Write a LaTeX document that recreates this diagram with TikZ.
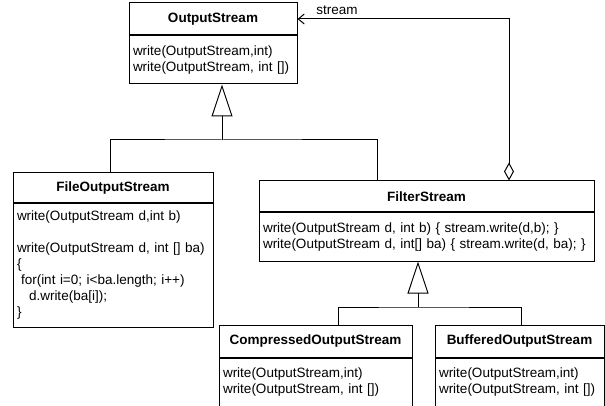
\documentclass[tikz,border=0pt]{standalone}
\usepackage{fontspec}
\setmainfont{Liberation Sans}
\usetikzlibrary{arrows.meta}

\newcommand{\umlfont}{\fontsize{13.5}{16}\selectfont}

\tikzset{
  classhead/.style={draw, font=\umlfont\bfseries, inner sep=0pt},
  classbody/.style={draw, font=\umlfont, anchor=north, align=left, inner xsep=4pt, inner ysep=0pt},
  inherit/.style={-{Triangle[open,length=32pt,width=21pt]}},
  aggregate/.style={{Diamond[open,length=18pt,width=10pt]}-{Straight Barb[length=6pt,width=10pt]}}
}

\begin{document}
\begin{tikzpicture}[x=1pt,y=-1pt,line width=1pt]
  \useasboundingbox (0,0) rectangle (605,406);

  % classes
  \node[classhead, minimum width=168pt, minimum height=32pt] (osh) at (213,19) {OutputStream};
  \node[classbody, text width=160pt, minimum height=48pt] (osb) at (osh.south)
    {write(OutputStream,int)\\write(OutputStream, int [])};

  \node[classhead, minimum width=200pt, minimum height=30pt] (fosh) at (113,188) {FileOutputStream};
  \node[classbody, text width=192pt, minimum height=123pt] (fosb) at (fosh.south)
    {write(OutputStream d,int b)\\[16pt]write(OutputStream d, int [] ba)\\\{\\
     \hspace*{4pt}for(int i=0; i<ba.length; i++)\\\hspace*{12pt}d.write(ba[i]);\\\}};

  \node[classhead, minimum width=335pt, minimum height=31pt] (fsh) at (426.5,196.5) {FilterStream};
  \node[classbody, text width=327pt, minimum height=48pt] (fsb) at (fsh.south)
    {write(OutputStream d, int b) \{ stream.write(d,b); \}\\write(OutputStream d, int[] ba) \{ stream.write(d, ba); \}};

  \node[classhead, minimum width=193pt, minimum height=32pt] (cosh) at (315.5,341) {CompressedOutputStream};
  \node[classbody, text width=185pt, minimum height=48pt] (cosb) at (cosh.south)
    {write(OutputStream,int)\\write(OutputStream, int [])};

  \node[classhead, minimum width=169pt, minimum height=32pt] (bosh) at (519.5,341) {BufferedOutputStream};
  \node[classbody, text width=161pt, minimum height=48pt] (bosb) at (bosh.south)
    {write(OutputStream,int)\\write(OutputStream, int [])};

  % junctions
  \coordinate (top1) at (222,140);
  \coordinate (top2) at (418,307);
  \coordinate (s1) at (110,0);
  \coordinate (s2) at (377,0);
  \coordinate (s3) at (338,0);
  \coordinate (s4) at (521,0);
  \coordinate (agg) at (509,0);

  % generalisation
  \draw[inherit] (top1) -- (top1 |- osb.south);
  \draw (fosh.north -| s1) |- (top1) -| (fsh.north -| s2);
  \draw[inherit] (top2) -- (top2 |- fsb.south);
  \draw (cosh.north -| s3) |- (top2) -| (bosh.north -| s4);

  % aggregation
  \draw[aggregate] (fsh.north -| agg) |- (osh.east);
  \node[font=\umlfont] (role) at (337,10) {stream};
\end{tikzpicture}
\end{document}
